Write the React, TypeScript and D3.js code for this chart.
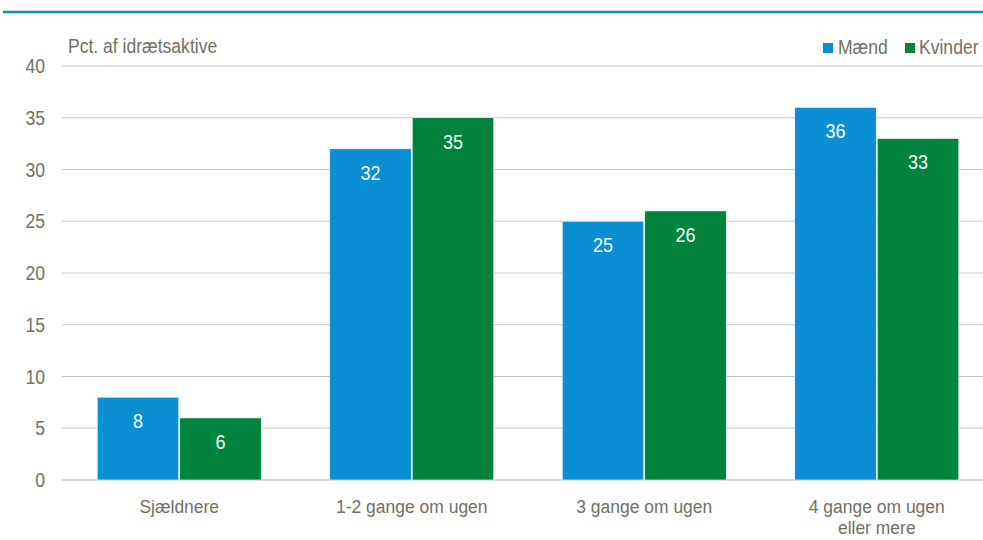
import React from "react";
import * as d3 from "d3";

const categories = ["Sjældnere", "1-2 gange om ugen", "3 gange om ugen", "4 gange om ugen\neller mere"];
const seriesNames = ["Mænd", "Kvinder"];
const maend = [8, 32, 25, 36];
const kvinder = [6, 35, 26, 33];
const yTicks = [0, 5, 10, 15, 20, 25, 30, 35, 40];
const colors = ["#0a8fd4", "#00843d"];

const W = 983;
const H = 540;
const FONT = "'Liberation Sans', Arial, sans-serif";
const TEXT = "#717064";
const SX = 0.9;

function T({ x, y, anchor = "start", size = 19.5, fill = TEXT, sx = SX, children }: any) {
  return (
    <g transform={`translate(${x},${y}) scale(${sx},1)`}>
      <text x={0} y={0} textAnchor={anchor} fontSize={size} fill={fill}>{children}</text>
    </g>
  );
}

export default function App() {
  const y = d3.scaleLinear().domain([0, 40]).range([480, 66]);
  const x0 = d3.scaleBand<string>().domain(categories).range([63, 993]).paddingInner(0.286).paddingOuter(0.143);
  const x1 = d3.scaleBand<string>().domain(seriesNames).range([0, x0.bandwidth()]).padding(0.012);
  const series = [maend, kvinder];

  return (
    <svg width={W} height={H} style={{ position: "absolute", left: 0, top: 0, background: "#fff" }} fontFamily={FONT}>
      <rect x={0} y={0} width={W} height={H} fill="#fff" />
      <line x1={3} x2={W} y1={12} y2={12} stroke="#0a8fd4" strokeWidth={2.5} />
      {yTicks.map((t) => (
        <g key={t}>
          <line x1={62} x2={W} y1={y(t)} y2={y(t)} stroke="#c9c7bf" strokeWidth={t === 0 ? 1.5 : 1} />
          <T x={45} y={y(t) + 7} anchor="end">{t}</T>
        </g>
      ))}
      <T x={68} y={53}>Pct. af idrætsaktive</T>
      {categories.map((c, i) => (
        <g key={c} transform={`translate(${x0(c)},0)`}>
          {seriesNames.map((s, j) => {
            const v = series[j][i];
            const bx = x1(s)!;
            const bw = x1.bandwidth();
            return (
              <g key={s}>
                <rect x={bx} y={y(v)} width={bw} height={y(0) - y(v)} fill={colors[j]} stroke="#fff" strokeWidth={0.6} />
                <T x={bx + bw / 2} y={y(v) + 31} anchor="middle" size={20} fill="#fff">{v}</T>
              </g>
            );
          })}
          {c.split("\n").map((line, k) => (
            <T key={k} x={x0.bandwidth() / 2} y={513 + k * 21} anchor="middle" size={19} sx={0.92}>{line}</T>
          ))}
        </g>
      ))}
      <g>
        <rect x={823} y={43} width={10} height={10} fill={colors[0]} />
        <T x={838} y={54}>Mænd</T>
        <rect x={905} y={43} width={10} height={10} fill={colors[1]} />
        <T x={919} y={54}>Kvinder</T>
      </g>
    </svg>
  );
}
